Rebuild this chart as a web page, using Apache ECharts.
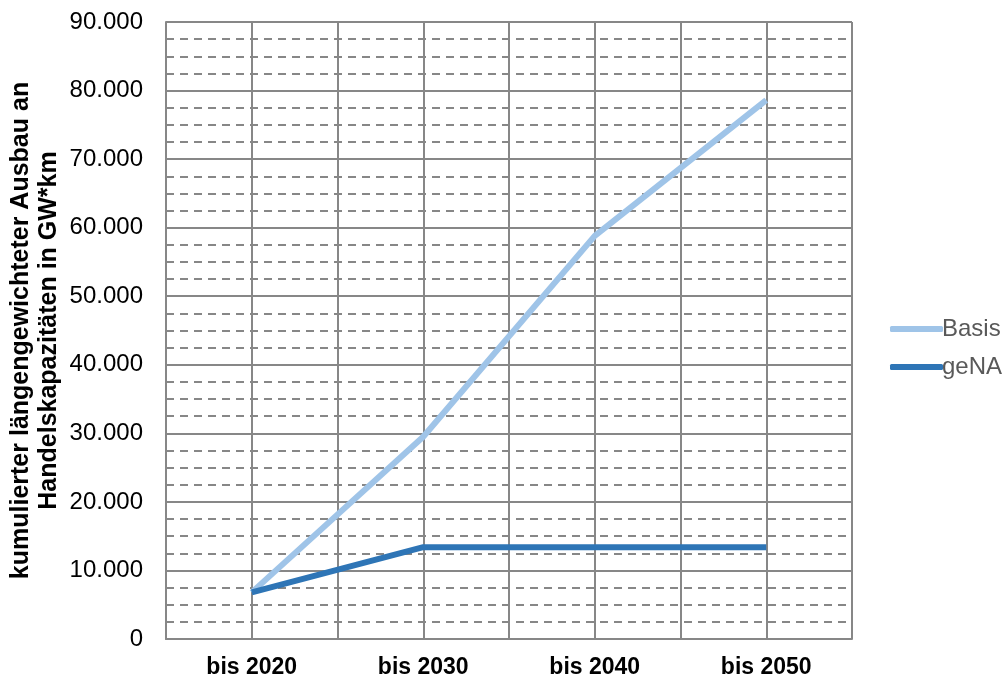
<!DOCTYPE html>
<html>
<head>
<meta charset="utf-8">
<script src="https://cdn.jsdelivr.net/npm/echarts@6/dist/echarts.min.js"></script>
<style>html,body{margin:0;padding:0;background:#fff;}#c{width:1006px;height:680px;}</style>
</head>
<body>
<div id="c"></div>
<script>
var categories = ['bis 2020', 'bis 2030', 'bis 2040', 'bis 2050'];
var basis = [6800, 29500, 58800, 78600];
var gena = [6800, 13400, 13400, 13400];
var yTicks = { min: 0, max: 90000, interval: 10000 };
var yTitle = 'kumulierter längengewichteter Ausbau an\nHandelskapazitäten in GW*km';

function fmt(v) {
  var s = String(Math.round(v));
  return s.replace(/\B(?=(\d{3})+(?!\d))/g, '.');
}

var chart = echarts.init(document.getElementById('c'));
var FONT = 'Liberation Sans, Arial, sans-serif';
var GRID = '#878787';
chart.setOption({
  animation: false,
  backgroundColor: '#fff',
  grid: { left: 166, right: 154, top: 22, bottom: 41, containLabel: false, outerBoundsMode: 'none' },
  legend: {
    orient: 'vertical',
    left: 885,
    top: 312,
    icon: 'roundRect',
    itemWidth: 53,
    itemHeight: 6,
    itemGap: 14,
    textStyle: { color: '#595959', fontSize: 24, fontFamily: FONT, padding: [0, 0, 0, -6] },
    data: ['Basis', 'geNA']
  },
  xAxis: [{
    type: 'category',
    data: categories,
    boundaryGap: true,
    axisLine: { show: true, lineStyle: { color: GRID, width: 2 } },
    axisTick: { show: false },
    splitLine: { show: false },
    axisLabel: { color: '#000', fontSize: 23, fontWeight: 'bold', fontFamily: FONT, margin: 17 }
  }, {
    type: 'value',
    min: 0, max: 8, interval: 1,
    position: 'bottom',
    axisLine: { show: false },
    axisTick: { show: false },
    axisLabel: { show: false },
    splitLine: { show: true, lineStyle: { color: GRID, width: 2, type: 'solid' } }
  }],
  yAxis: {
    type: 'value',
    min: yTicks.min, max: yTicks.max, interval: yTicks.interval,
    name: yTitle,
    nameLocation: 'middle',
    nameRotate: 90,
    nameGap: 103,
    nameMoveOverlap: false,
    nameTextStyle: { color: '#000', fontSize: 25, fontWeight: 'bold', fontFamily: FONT, lineHeight: 28 },
    axisLine: { show: true, lineStyle: { color: GRID, width: 2 } },
    axisTick: { show: false },
    axisLabel: { color: '#000', fontSize: 24, fontFamily: FONT, margin: 23, formatter: fmt },
    splitLine: { show: true, lineStyle: { color: GRID, width: 2 } },
    minorTick: { show: false, splitNumber: 4 },
    minorSplitLine: { show: true, lineStyle: { color: GRID, width: 2, type: [8, 6] } }
  },
  series: [{
    name: 'Basis',
    type: 'line',
    data: basis,
    symbol: 'none',
    lineStyle: { color: '#9fc4e8', width: 6 },
    itemStyle: { color: '#9fc4e8' },
    z: 3
  }, {
    name: 'geNA',
    type: 'line',
    data: gena,
    symbol: 'none',
    lineStyle: { color: '#2e75b6', width: 6 },
    itemStyle: { color: '#2e75b6' },
    z: 4
  }]
});
</script>
</body>
</html>
